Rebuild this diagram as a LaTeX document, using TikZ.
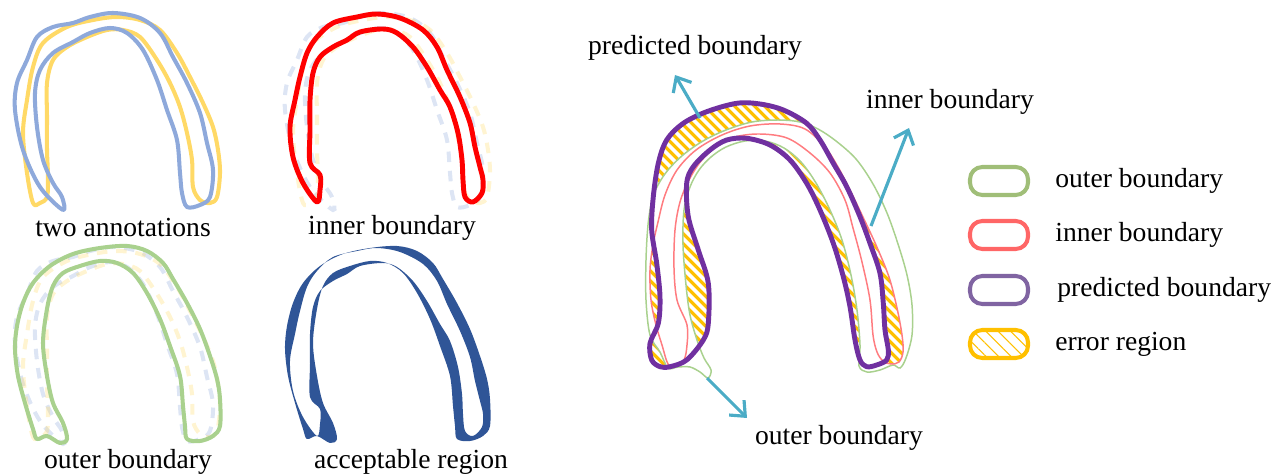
\documentclass[tikz,border=0pt]{standalone}
\usepackage{fontspec}
\setmainfont{Liberation Serif}
\usetikzlibrary{patterns.meta,arrows.meta}
\definecolor{annBlue}{RGB}{142,169,219}
\definecolor{annYellow}{RGB}{255,217,102}
\definecolor{innRed}{RGB}{255,0,0}
\definecolor{outGreen}{RGB}{169,209,142}
\definecolor{accBlue}{RGB}{47,85,151}
\definecolor{predPurple}{RGB}{112,48,160}
\definecolor{thinRed}{RGB}{255,124,128}
\definecolor{errOrange}{RGB}{255,192,0}
\definecolor{arrTeal}{RGB}{75,172,198}
\definecolor{legGreen}{RGB}{160,190,120}
\definecolor{legRed}{RGB}{255,102,102}
\definecolor{legPurple}{RGB}{128,100,162}
\def\shpBlue{plot[smooth cycle,tension=0.55] coordinates {(63,210) (40,187) (23,150) (15,110) (17,83) (27,60) (37,37) (53,27) (73,23) (90,17) (113,13) (140,18) (160,33) (173,57) (187,83) (200,113) (207,143) (213,170) (210,197) (200,205) (187,207) (182,193) (180,173) (177,140) (167,110) (157,80) (143,50) (127,33) (110,28) (90,33) (73,42) (53,53) (40,70) (35,93) (37,127) (43,160) (53,183) (62,197)}}
\def\shpYellow{plot[smooth cycle,tension=0.55] coordinates {(33,203) (27,173) (23,133) (27,100) (33,67) (43,43) (67,27) (93,20) (117,17) (140,20) (160,30) (177,53) (190,77) (203,103) (213,127) (218,150) (220,173) (217,197) (210,203) (200,200) (193,187) (192,160) (187,133) (180,107) (170,83) (157,60) (140,37) (123,30) (107,30) (87,37) (67,47) (53,60) (47,83) (47,117) (47,150) (48,177) (47,197) (40,203)}}
\def\shpRed{plot[smooth cycle,tension=0.55] coordinates {(317,202) (303,183) (293,157) (290,127) (295,100) (300,77) (307,53) (317,37) (333,23) (357,17) (377,14) (400,18) (423,30) (437,47) (447,70) (460,97) (470,123) (475,147) (480,167) (483,180) (482,193) (473,202) (465,197) (463,180) (462,160) (458,133) (450,107) (440,90) (427,67) (413,47) (397,33) (383,29) (360,32) (347,40) (333,47) (320,57) (313,73) (310,100) (310,130) (310,163) (320,175) (320,190)}}
\def\shpGreen{plot[smooth cycle,tension=0.55] coordinates {(33,429) (25,403) (18,376) (15,349) (17,326) (23,303) (33,283) (50,266) (73,254) (100,248) (127,246) (147,251) (163,263) (173,279) (187,303) (200,329) (210,356) (217,379) (220,399) (220,426) (213,436) (200,441) (187,439) (185,426) (183,406) (180,376) (170,346) (160,319) (147,293) (133,273) (117,263) (100,261) (80,266) (63,273) (53,286) (47,309) (43,343) (47,376) (53,403) (63,423) (67,439) (60,443) (47,436) (37,439)}}
\def\shpPurp{plot[smooth cycle,tension=0.55] coordinates {(651.7,360) (650,343.3) (658.3,323.3) (660,296.7) (656.7,263.3) (651.7,230) (653.3,196.7) (658.3,163.3) (666.7,140) (683.3,123.3) (706.7,111.7) (736.7,103.3) (760,104) (783.3,110) (806.7,123.3) (820,140) (833.3,163.3) (846.7,186.7) (860,216.7) (870,243.3) (880,273.3) (883.3,303.3) (885,330) (888.3,350) (886.7,360) (876.7,365) (866.7,366.7) (860,360) (855,340) (850,306.7) (843.3,276.7) (833.3,243.3) (820,210) (806.7,183.3) (790,160) (770,145) (746.7,138.3) (726.7,140) (710,150) (693.3,166.7) (686.7,183.3) (688.3,216.7) (698.3,250) (708.3,283.3) (708.3,323.3) (703.3,340) (686.7,360) (670,366.7) (660,366.7)}}
\def\shpInner{plot[smooth cycle,tension=0.55] coordinates {(675,366) (668,364) (662,345) (656,325) (651,300) (650,270) (653,245) (658,222) (665,195) (677,170) (696,150) (722,135) (750,126) (780,124) (805,129) (825,147) (838,167) (850,190) (862,215) (876,245) (889,277) (897,308) (902,335) (903,352) (899,362) (891,364) (883,361) (877,352) (873,335) (870,300) (862,262) (853,228) (845,200) (830,173) (810,153) (787,138) (760,134) (735,137) (716,147) (701,161) (689,180) (680,202) (675,230) (674,268) (677,300) (687,325) (687,345) (684,360)}}
\def\shpOuter{plot[smooth cycle,tension=0.55] coordinates {(708,378) (700,372) (690,367) (678,367) (668,368) (660,352) (650,335) (646,300) (646,260) (648,225) (652,200) (658,185) (668,170) (683,155) (703,141) (726,130) (752,122) (778,120) (800,122) (818,129) (836,141) (856,159) (873,184) (887,213) (898,244) (907,275) (912,305) (912,335) (906,358) (900,368) (893,365) (880,370) (867,372) (859,366) (860,345) (857,310) (851,275) (842,240) (830,210) (816,183) (801,162) (784,148) (765,141) (745,141) (726,147) (711,157) (699,170) (690,187) (684,210) (683,245) (686,285) (690,315) (697,340) (704,358) (711,370)}}
\tikzset{
  lbl/.style={font=\fontsize{15.7}{18}\selectfont, inner sep=0pt},
  annb/.style={draw=annBlue, line width=2.3pt, line join=round},
  anny/.style={draw=annYellow, line width=2.3pt, line join=round},
  faint/.style={line width=2.3pt, draw opacity=0.3, dash pattern=on 6pt off 5pt},
  innline/.style={draw=innRed, line width=2.8pt, line join=round},
  outline/.style={draw=outGreen, line width=2.3pt, line join=round},
  predline/.style={draw=predPurple, line width=2.8pt, line join=round},
  thinin/.style={draw=thinRed, line width=0.85pt},
  thinout/.style={draw=outGreen, line width=0.85pt},
  hatch/.style={pattern={Lines[angle=-45,distance=4pt,line width=1.9pt]}, pattern color=errOrange},
  callout/.style={draw=arrTeal, line width=1.8pt, -{Straight Barb[length=7pt,width=12pt,line width=1.8pt]}},
  legbox/.style={line width=2.3pt, rounded corners=7pt}
}
\begin{document}
\begin{tikzpicture}[x=0.02cm,y=-0.02cm]
\useasboundingbox (0,0) rectangle (1276,476);
% panel 1: two annotations
\draw[anny] \shpYellow;
\draw[annb] \shpBlue;
\node[lbl] (t1) at (123,228) {two annotations};
% panel 2: inner boundary
\begin{scope}[shift={(270,0)}]
\draw[faint, draw=annBlue] \shpBlue;
\draw[faint, draw=annYellow] \shpYellow;
\end{scope}
\draw[innline] \shpRed;
\node[lbl] (t2) at (392,228) {inner boundary};
% panel 3: outer boundary
\begin{scope}[shift={(0,234)}]
\draw[faint, draw=annBlue] \shpBlue;
\draw[faint, draw=annYellow] \shpYellow;
\end{scope}
\draw[outline] \shpGreen;
\node[lbl] (t3) at (128,462) {outer boundary};
% panel 4: acceptable region
\fill[accBlue, even odd rule] [shift={(270,0)}] \shpGreen [shift={(-270,234)}] \shpRed;
\node[lbl] (t4) at (411,462) {acceptable region};
% right panel: error = (predicted outside outer) + (inner outside predicted)
\begin{scope}
\clip \shpPurp;
\fill[hatch, even odd rule] (600,40) rectangle (960,420) \shpOuter;
\end{scope}
\begin{scope}
\clip \shpInner;
\fill[hatch, even odd rule] (600,40) rectangle (960,420) \shpPurp;
\end{scope}
\draw[thinout] \shpOuter;
\draw[thinin] \shpInner;
\draw[predline] \shpPurp;
\coordinate (a1s) at (700,118);
\coordinate (a1e) at (675,75);
\coordinate (a2s) at (871,226);
\coordinate (a2e) at (909,128);
\coordinate (a3s) at (707,378);
\coordinate (a3e) at (747,418);
\draw[callout] (a1s) -- (a1e);
\draw[callout] (a2s) -- (a2e);
\draw[callout] (a3s) -- (a3e);
\node[lbl] (lp) at (695,48) {predicted boundary};
\node[lbl] (li) at (950,102) {inner boundary};
\node[lbl] (lo) at (839,438) {outer boundary};
% legend
\draw[legbox, draw=legGreen] (970,167) rectangle (1028,195);
\draw[legbox, draw=legRed] (970,221) rectangle (1028,249);
\draw[legbox, draw=legPurple] (970,276) rectangle (1028,304);
\draw[legbox, draw=errOrange, pattern={Lines[angle=-45,distance=5pt,line width=0.6pt]}, pattern color=errOrange] (970,330) rectangle (1028,358);
\node[lbl, anchor=west] (g1) at (1055,181) {outer boundary};
\node[lbl, anchor=west] (g2) at (1055,235) {inner boundary};
\node[lbl, anchor=west] (g3) at (1057,290) {predicted boundary};
\node[lbl, anchor=west] (g4) at (1055,344) {error region};
\end{tikzpicture}
\end{document}
